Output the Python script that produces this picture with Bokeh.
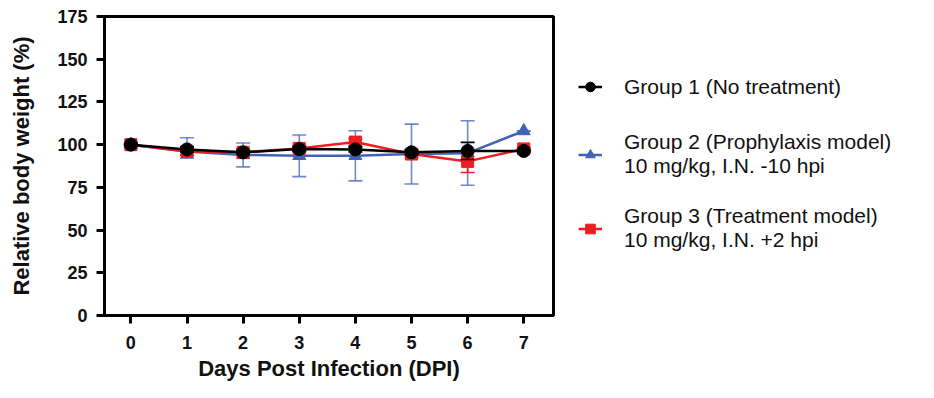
from bokeh.plotting import figure
from bokeh.models import Legend, LegendItem, Range1d, FixedTicker, ColumnDataSource
from bokeh.embed import file_html
from bokeh.resources import INLINE

days = [0, 1, 2, 3, 4, 5, 6, 7]
y_ticks = [0, 25, 50, 75, 100, 125, 150, 175]

g1_mean = [100, 97.2, 95.5, 97.4, 97.2, 95.5, 96.3, 96.3]
g1_lower = [99.5, 95.7, 94.5, 96.0, 95.7, 94.0, 91.3, 95.5]
g1_upper = [100.5, 98.7, 96.5, 98.8, 98.7, 97.0, 101.3, 97.1]

g2_mean = [100, 96.0, 94.0, 93.5, 93.5, 94.5, 95.0, 108.0]
g2_lower = [100, 92.0, 87.0, 81.3, 78.8, 77.0, 76.2, 108.0]
g2_upper = [100, 104.0, 101.0, 105.6, 108.1, 112.0, 114.0, 108.0]

g3_mean = [100, 96.0, 95.5, 97.8, 101.5, 94.5, 90.2, 97.5]
g3_lower = [99.0, 94.0, 93.5, 96.0, 99.5, 92.5, 83.7, 96.5]
g3_upper = [101.0, 98.0, 97.5, 99.5, 103.5, 96.5, 96.7, 98.5]

labels = [
    "Group 1 (No treatment)",
    "Group 2 (Prophylaxis model)\n10 mg/kg, I.N. -10 hpi",
    "Group 3 (Treatment model)\n10 mg/kg, I.N. +2 hpi",
]
colors = ["#000000", "#4262B8", "#EE1D23"]
markers = ["circle", "triangle", "square"]
sizes = [13, 13, 12]

FONT = "Liberation Sans"

p = figure(frame_width=449, frame_height=299, output_backend="svg", toolbar_location=None,
           x_range=Range1d(-0.47, 7.53), y_range=Range1d(0, 175),
           min_border_left=104, min_border_right=0, min_border_top=16, min_border_bottom=67)

p.grid.visible = False
p.outline_line_color = "black"
p.outline_line_width = 3
p.background_fill_color = "white"
p.border_fill_color = "white"

for ax in (p.xaxis[0], p.yaxis[0]):
    ax.axis_line_width = 3
    ax.major_tick_line_width = 3
    ax.major_tick_out = 8
    ax.major_tick_in = 0
    ax.minor_tick_line_color = None
    ax.major_label_text_font = FONT
    ax.major_label_text_font_style = "bold"
    ax.major_label_text_font_size = "18px"
    ax.major_label_text_color = "#111111"
    ax.axis_label_text_font = FONT
    ax.axis_label_text_font_style = "bold"
    ax.axis_label_text_font_size = "22px"
    ax.axis_label_text_color = "#111111"

p.xaxis.ticker = FixedTicker(ticks=days)
p.yaxis.ticker = FixedTicker(ticks=y_ticks)
p.xaxis.axis_label = "Days Post Infection (DPI)"
p.yaxis.axis_label = "Relative body weight (%)"
p.xaxis.major_label_standoff = 12
p.yaxis.major_label_standoff = 9
p.xaxis.axis_label_standoff = 4
p.yaxis.axis_label_standoff = 20

series = [
    (g2_mean, g2_lower, g2_upper, 1),
    (g3_mean, g3_lower, g3_upper, 2),
    (g1_mean, g1_lower, g1_upper, 0),
]
items = {}
for mean, lo, up, idx in series:
    src = ColumnDataSource(dict(x=days, y=mean, lo=lo, up=up))
    c = colors[idx]
    ealpha = 0.75 if idx == 1 else 1.0
    p.segment(x0="x", y0="lo", x1="x", y1="up", source=src, line_color=c,
              line_width=1.6, line_alpha=ealpha)
    p.scatter(x="x", y="lo", source=src, marker="dash", size=14, line_color=c,
              line_width=1.6, line_alpha=ealpha)
    p.scatter(x="x", y="up", source=src, marker="dash", size=14, line_color=c,
              line_width=1.6, line_alpha=ealpha)
    lr = p.line(x="x", y="y", source=src, line_color=c, line_width=2.5)
    sr = p.scatter(x="x", y="y", source=src, marker=markers[idx], size=sizes[idx],
                   fill_color=c, line_color=c)
    items[idx] = LegendItem(label=labels[idx], renderers=[lr, sr])

legend = Legend(items=[items[0], items[1], items[2]], location=(25, 63),
                glyph_width=24, glyph_height=35, label_standoff=22, spacing=26,
                padding=0, margin=0, border_line_color=None,
                background_fill_alpha=0,
                label_text_font=FONT, label_text_font_size="21px",
                label_text_color="#111111", label_text_line_height=1.3)
p.add_layout(legend, "right")

open("out.html", "w").write(file_html(p, INLINE))
